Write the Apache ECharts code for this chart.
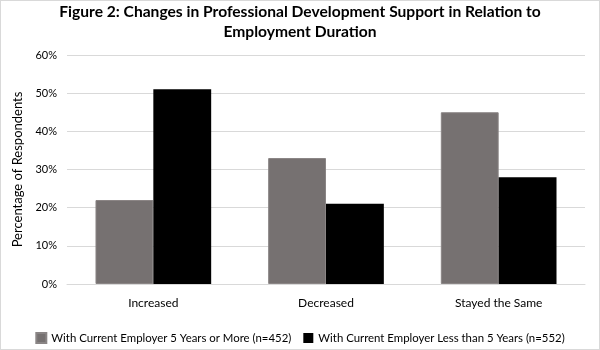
<!DOCTYPE html>
<html><head><meta charset="utf-8">
<script src="https://cdn.jsdelivr.net/npm/echarts@6/dist/echarts.min.js"></script>
<style>html,body{margin:0;padding:0;background:#fff}#c{width:600px;height:350px;box-sizing:border-box;border:1px solid #d9d9d9}</style>
</head><body><div id="c"></div>
<script>
const categories = ["Increased", "Decreased", "Stayed the Same"];
const seriesNames = ["With Current Employer 5 Years or More (n=452)", "With Current Employer Less than 5 Years (n=552)"];
const moreThan5 = [22, 33, 45];
const lessThan5 = [51, 21, 28];
const yTicks = [0, 10, 20, 30, 40, 50, 60];
const titleText = "Figure 2: Changes in Professional Development Support in Relation to\nEmployment Duration";

const font = "Lato, 'Open Sans', sans-serif";
const chart = echarts.init(document.getElementById('c'), null, {renderer: 'canvas'});
chart.setOption({
  animation: false,
  textStyle: {fontFamily: font},
  title: {
    text: titleText, left: 'center', top: 1, padding: [0, 18, 0, 0],
    textStyle: {fontFamily: font, fontSize: 15.6, fontWeight: 'bold', color: '#000', lineHeight: 20}
  },
  grid: {left: 66, right: 14, top: 54, bottom: 65, containLabel: false},
  xAxis: {
    type: 'category', data: categories,
    axisLine: {lineStyle: {color: '#d9d9d9'}},
    axisTick: {show: false},
    axisLabel: {color: '#000', fontSize: 12, margin: 13, fontFamily: font}
  },
  yAxis: {
    type: 'value', min: yTicks[0], max: yTicks[yTicks.length - 1], interval: 10,
    name: 'Percentage of Respondents', nameLocation: 'middle', nameGap: 33,
    nameTextStyle: {color: '#000', fontSize: 13, fontFamily: font},
    axisLine: {show: false}, axisTick: {show: false},
    axisLabel: {color: '#000', fontSize: 11, formatter: '{value}%', margin: 10, fontFamily: font},
    splitLine: {lineStyle: {color: '#d9d9d9'}}
  },
  legend: {
    bottom: 0, left: 'center', itemWidth: 10, itemHeight: 10, itemGap: 12,
    icon: 'rect',
    textStyle: {color: '#000', fontSize: 11.4, fontFamily: font},
    data: seriesNames
  },
  series: [
    {name: seriesNames[0], type: 'bar', data: moreThan5, barGap: '0%', barCategoryGap: '33%',
     itemStyle: {color: '#767171', borderColor: '#8a8585', borderWidth: 1}},
    {name: seriesNames[1], type: 'bar', data: lessThan5, barGap: '0%', barCategoryGap: '33%',
     itemStyle: {color: '#000000'}}
  ]
});
</script></body></html>
